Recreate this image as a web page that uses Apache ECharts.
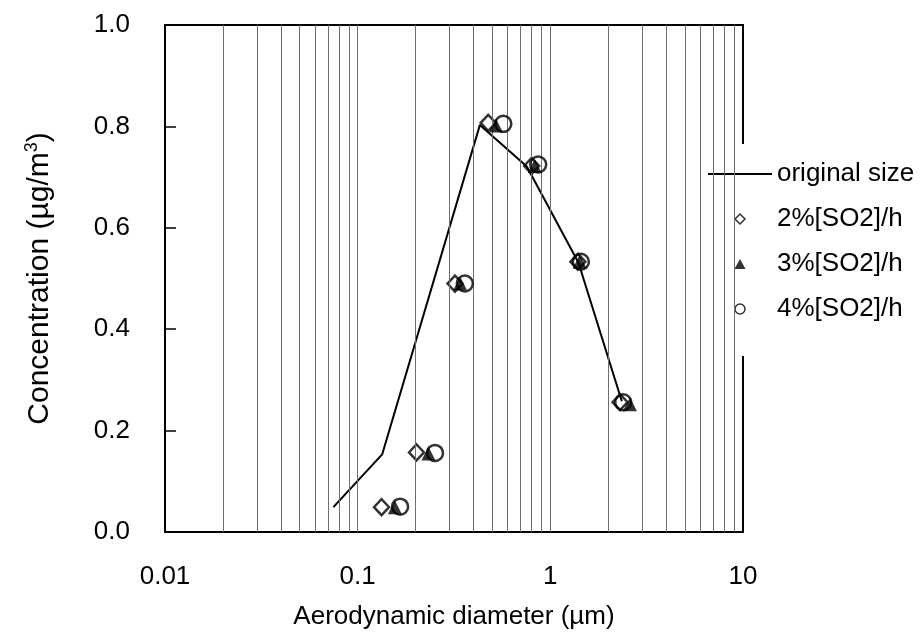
<!DOCTYPE html>
<html>
<head>
<meta charset="utf-8">
<script src="https://cdn.jsdelivr.net/npm/echarts@6/dist/echarts.min.js"></script>
<style>
  html, body { margin: 0; padding: 0; background: #fff; }
  #chart { width: 920px; height: 635px; }
</style>
</head>
<body>
<div id="chart"></div>
<script>
// original size distribution (line)
const origSize = [0.0748, 0.134, 0.431, 0.755, 1.40, 2.35]
const origConc = [0.049, 0.153, 0.803, 0.721, 0.531, 0.258]

// after SO2 exposure
const size2 = [0.133, 0.202, 0.32, 0.476, 0.80, 1.39, 2.30]
const conc2 = [0.049, 0.157, 0.49, 0.807, 0.722, 0.533, 0.256]
const size3 = [0.156, 0.233, 0.34, 0.522, 0.83, 1.42, 2.59]
const conc3 = [0.049, 0.155, 0.49, 0.802, 0.722, 0.533, 0.252]
const size4 = [0.166, 0.252, 0.36, 0.570, 0.865, 1.44, 2.39]
const conc4 = [0.050, 0.156, 0.49, 0.805, 0.725, 0.533, 0.256]

// vertical log grid lines
const gridValues = []
for (const dec of [0.01, 0.1, 1]) {
  for (let k = 2; k <= 10; k++) gridValues.push(+(dec * k).toPrecision(3))
}
gridValues.pop()

const zip = (xs, ys) => xs.map((x, i) => [x, ys[i]])
const font = '"Liberation Sans", Arial, sans-serif'

const chart = echarts.init(document.getElementById('chart'))
chart.setOption({
  animation: false,
  textStyle: { fontFamily: font, color: '#000' },
  grid: {
    left: 165, right: 177, top: 25, bottom: 102,
    show: true, borderColor: '#000', borderWidth: 2
  },
  legend: {
    orient: 'vertical',
    left: 690,
    top: 144,
    padding: [17, 10, 34, 18],
    backgroundColor: '#fff',
    itemWidth: 64,
    itemHeight: 10,
    itemGap: 19,
    symbolKeepAspect: true,
    textStyle: { fontSize: 26, lineHeight: 26, color: '#000', fontFamily: font },
    data: [
      { name: 'original size', icon: 'path://M0,0 L64,0 L64,2 L0,2 Z', itemStyle: { color: '#000' } },
      { name: '2%[SO2]/h', icon: 'path://M5,0 L10,5 L5,10 L0,5 Z', itemStyle: { color: '#fff', borderColor: '#000', borderWidth: 1.5 } },
      { name: '3%[SO2]/h', icon: 'path://M5,0 L10,9 L0,9 Z', itemStyle: { color: '#000' } },
      { name: '4%[SO2]/h', icon: 'circle', itemStyle: { color: '#fff', borderColor: '#000', borderWidth: 1.5 } }
    ]
  },
  xAxis: {
    type: 'log',
    logBase: 10,
    min: 0.01,
    max: 10,
    name: 'Aerodynamic diameter (\u00b5m)',
    nameLocation: 'middle',
    nameGap: 72,
    nameTextStyle: { fontSize: 26, color: '#000' },
    axisLine: { lineStyle: { color: '#000', width: 2 } },
    axisTick: { show: false },
    splitLine: { show: false },
    axisLabel: {
      fontSize: 26, color: '#000', margin: 32,
      formatter: v => String(v)
    }
  },
  yAxis: {
    type: 'value',
    min: 0,
    max: 1,
    interval: 0.2,
    name: 'Concentration (\u00b5g/m{sup|3})',
    nameLocation: 'middle',
    nameGap: 109,
    nameTextStyle: {
      fontSize: 30, color: '#000',
      rich: { sup: { fontSize: 18, verticalAlign: 'top', padding: [0, 0, 15, 0] } }
    },
    axisLine: { lineStyle: { color: '#000', width: 2 } },
    axisTick: { inside: true, length: 11, lineStyle: { color: '#000', width: 1.5 } },
    splitLine: { show: false },
    axisLabel: {
      fontSize: 26, color: '#000', margin: 35,
      formatter: v => v.toFixed(1)
    }
  },
  series: [
    {
      name: 'original size',
      type: 'line',
      data: zip(origSize, origConc),
      symbol: 'none',
      lineStyle: { color: '#000', width: 2 },
      itemStyle: { color: '#000' },
      z: 3,
      markLine: {
        silent: true,
        symbol: 'none',
        label: { show: false },
        lineStyle: { color: '#6e6e6e', width: 1, type: 'solid' },
        data: gridValues.map(v => ({ xAxis: v }))
      }
    },
    {
      name: '2%[SO2]/h',
      type: 'scatter',
      data: zip(size2, conc2),
      symbol: 'diamond',
      symbolSize: [15, 16],
      itemStyle: { color: 'rgba(255,255,255,0)', borderColor: '#000', borderWidth: 2.5 },
      z: 4
    },
    {
      name: '3%[SO2]/h',
      type: 'scatter',
      data: zip(size3, conc3),
      symbol: 'triangle',
      symbolSize: 14,
      itemStyle: { color: '#000' },
      z: 5
    },
    {
      name: '4%[SO2]/h',
      type: 'scatter',
      data: zip(size4, conc4),
      symbol: 'circle',
      symbolSize: 16,
      itemStyle: { color: 'rgba(255,255,255,0)', borderColor: '#000', borderWidth: 2.5 },
      z: 6
    }
  ]
})
</script>
</body>
</html>
